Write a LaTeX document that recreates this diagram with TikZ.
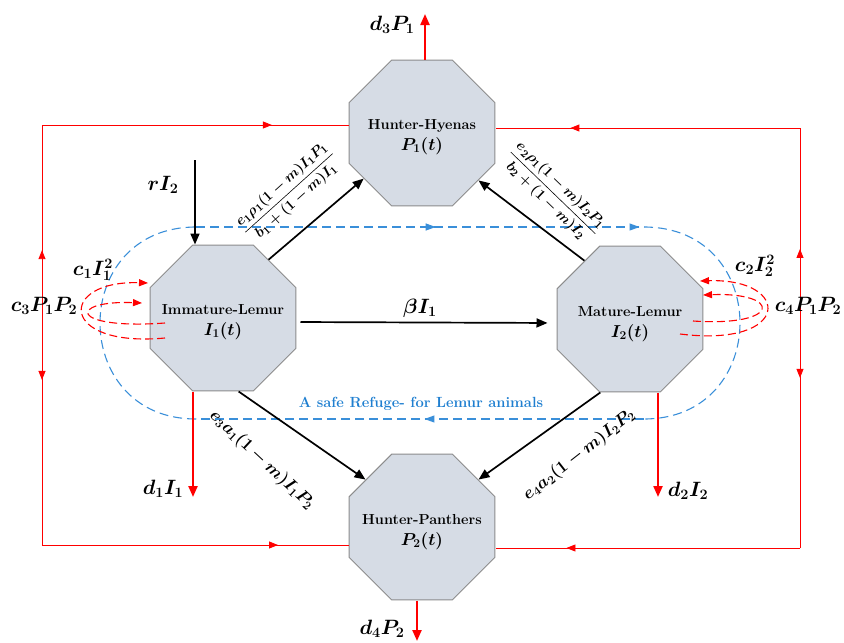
\documentclass[tikz,border=0pt]{standalone}
\usepackage{amsmath}
\usepackage{bm}
\usetikzlibrary{arrows.meta,shapes.geometric,decorations.markings}
\definecolor{octfill}{HTML}{D6DCE5}
\definecolor{octdraw}{HTML}{8C8C8C}
\definecolor{refblue}{HTML}{3A8FD9}
\definecolor{textblue}{HTML}{1F7FD0}
\definecolor{myred}{HTML}{FF0000}
\begin{document}
\begin{tikzpicture}[x=1pt,y=-1pt,
  oct/.style={regular polygon, regular polygon sides=8, minimum size=158pt,
    inner sep=0pt, fill=octfill, draw=octdraw, line width=1pt},
  octtext/.style={align=center, font=\fontsize{14.5}{21}\selectfont\bfseries},
  blk/.style={-{Triangle[length=11pt,width=9pt]}, line width=1.7pt, black},
  rdarr/.style={-{Triangle[length=11pt,width=9pt]}, line width=2.2pt, myred},
  rdthin/.style={myred, line width=0.9pt},
  rddash/.style={myred, line width=1.1pt, dash pattern=on 8pt off 4pt,
    -{Triangle[length=9pt,width=7pt]}},
  bluedash/.style={refblue, line width=1.1pt, dash pattern=on 9pt off 5pt},
  mlab/.style={font=\fontsize{22}{24}\selectfont, inner sep=1pt},
  flab/.style={font=\fontsize{15}{17}\selectfont, inner sep=1pt},
  llab/.style={font=\fontsize{16.5}{18}\selectfont, inner sep=1pt},
  marr/.style={postaction={decorate}, decoration={markings,
    mark=at position #1 with {\arrow{Triangle[length=9pt,width=7pt]}}}},
  updown/.style 2 args={postaction={decorate}, decoration={markings,
    mark=at position #1 with {\arrowreversed{Triangle[length=9pt,width=7pt]}},
    mark=at position #2 with {\arrow{Triangle[length=9pt,width=7pt]}}}},
  bmarr/.style={postaction={decorate}, decoration={markings,
    mark=at position #1 with {\arrow[refblue,solid]{Triangle[length=10pt,width=7pt]}}}},
]
\useasboundingbox (0,0) rectangle (844,643);

% refuge (blue dashed stadium)
\coordinate (rtl) at (196,227);
\coordinate (rtr) at (644,227);
\coordinate (rbr) at (644,419);
\coordinate (rbl) at (196,419);
\draw[bluedash, bmarr=0.535] (rtl) -- (rtr);
\draw[bluedash, bmarr=0.99] (rtl) -- (rtr);
\draw[bluedash] (rtr) .. controls (772,227) and (772,419) .. (rbr);
\draw[bluedash, bmarr=0.49] (rbr) -- (rbl);
\draw[bluedash] (rbl) .. controls (68,419) and (68,227) .. (rtl);

% octagons
\node[oct] (H) at (422,133) {};
\node[oct] (P) at (422,527) {};
\node[oct] (IL) at (223,318) {};
\node[oct] (ML) at (630,319) {};
\node[octtext] (Ht) at (422,137) {Hunter-Hyenas\\ \fontsize{17}{21}\selectfont$\bm{P_1(t)}$};
\node[octtext] (Pt) at (422,532) {Hunter-Panthers\\ \fontsize{17}{21}\selectfont$\bm{P_2(t)}$};
\node[octtext] (ILt) at (223,322) {Immature-Lemur\\ \fontsize{17}{21}\selectfont$\bm{I_1(t)}$};
\node[octtext] (MLt) at (630,324) {Mature-Lemur\\ \fontsize{17}{21}\selectfont$\bm{I_2(t)}$};

% outer red loops
\coordinate (tl) at (42,125);
\coordinate (bl) at (42,545);
\coordinate (tr) at (800,128);
\coordinate (br) at (800,548);
\draw[rdthin, marr=0.75] (tl) -- (tl -| H.west);
\draw[rdthin, updown={0.393}{0.702}] (bl) -- (tl);
\draw[rdthin, marr=0.77] (bl) -- (bl -| P.west);
\draw[rdthin, marr=0.754] (tr) -- (tr -| H.east);
\draw[rdthin, updown={0.405}{0.712}] (br) -- (tr);
\draw[rdthin, marr=0.767] (br) -- (br -| P.east);

% black arrows
\coordinate (r) at (195,160);
\draw[blk] (r) -- (r |- IL.north);
\node[mlab] (rlab) at (163,185) {$\bm{rI_2}$};
\draw[blk] (IL.52) -- (H.218);
\draw[blk] (ML.128) -- (H.-40);
\draw[blk, shorten <=4pt, shorten >=9pt] ([yshift=-4pt]IL.east) -- ([yshift=-4pt]ML.west);
\node[mlab] (blab) at (420,308) {$\bm{\beta I_1}$};
\draw[blk] (IL.-78) -- (P.140);
\draw[blk] (ML.-112) -- (P.40);

% fraction labels
\node[flab, rotate=42] (f1) at (289,193) {$\bm{\dfrac{e_1\rho_1(1-m)I_1P_1}{b_1+(1-m)I_1}}$};
\node[flab, rotate=-44] (f2) at (553,193) {$\bm{\dfrac{e_2\rho_1(1-m)I_2P_1}{b_2+(1-m)I_2}}$};
\node[llab, rotate=-43] (f3) at (262,460) {$\bm{e_3a_1(1-m)I_1P_2}$};
\node[llab, rotate=38] (f4) at (579,455) {$\bm{e_4a_2(1-m)I_2P_2}$};

% red death arrows
\coordinate (d1) at (193,497);
\coordinate (d2) at (658,497);
\coordinate (d3) at (425,14);
\coordinate (d4) at (417,641);
\draw[rdarr] (d1 |- IL.south) -- (d1);
\draw[rdarr] (d2 |- ML.south) -- (d2);
\draw[rdarr] (d3 |- H.north) -- (d3);
\draw[rdarr] (d4 |- P.south) -- (d4);
\node[mlab] (d1lab) at (163,489) {$\bm{d_1I_1}$};
\node[mlab] (d2lab) at (688,491) {$\bm{d_2I_2}$};
\node[mlab] (d3lab) at (392,25) {$\bm{d_3P_1}$};
\node[mlab] (d4lab) at (382,629) {$\bm{d_4P_2}$};

% self-interaction loops
\coordinate (la1) at (165,338);
\coordinate (lb1) at (148,283);
\coordinate (la2) at (165,323);
\coordinate (lb2) at (142,303);
\draw[rddash] (la1) .. controls (58,348) and (58,280) .. (lb1);
\draw[rddash] (la2) .. controls (68,330) and (68,300) .. (lb2);
\coordinate (ra1) at (680,334);
\coordinate (rb1) at (700,281);
\coordinate (ra2) at (693,321);
\coordinate (rb2) at (703,295);
\draw[rddash] (ra1) .. controls (792,348) and (792,278) .. (rb1);
\draw[rddash] (ra2) .. controls (782,327) and (782,292) .. (rb2);

\node[mlab] (c1lab) at (93,270) {$\bm{c_1I_1^2}$};
\node[mlab] (c2lab) at (755,266) {$\bm{c_2I_2^2}$};
\node[mlab] (c3lab) at (44,306) {$\bm{c_3P_1P_2}$};
\node[mlab] (c4lab) at (808,306) {$\bm{c_4P_1P_2}$};

% refuge label
\node[text=textblue, font=\fontsize{14.7}{16}\selectfont\bfseries] (reflab) at (421,404) {A safe Refuge- for Lemur animals};
\end{tikzpicture}
\end{document}
